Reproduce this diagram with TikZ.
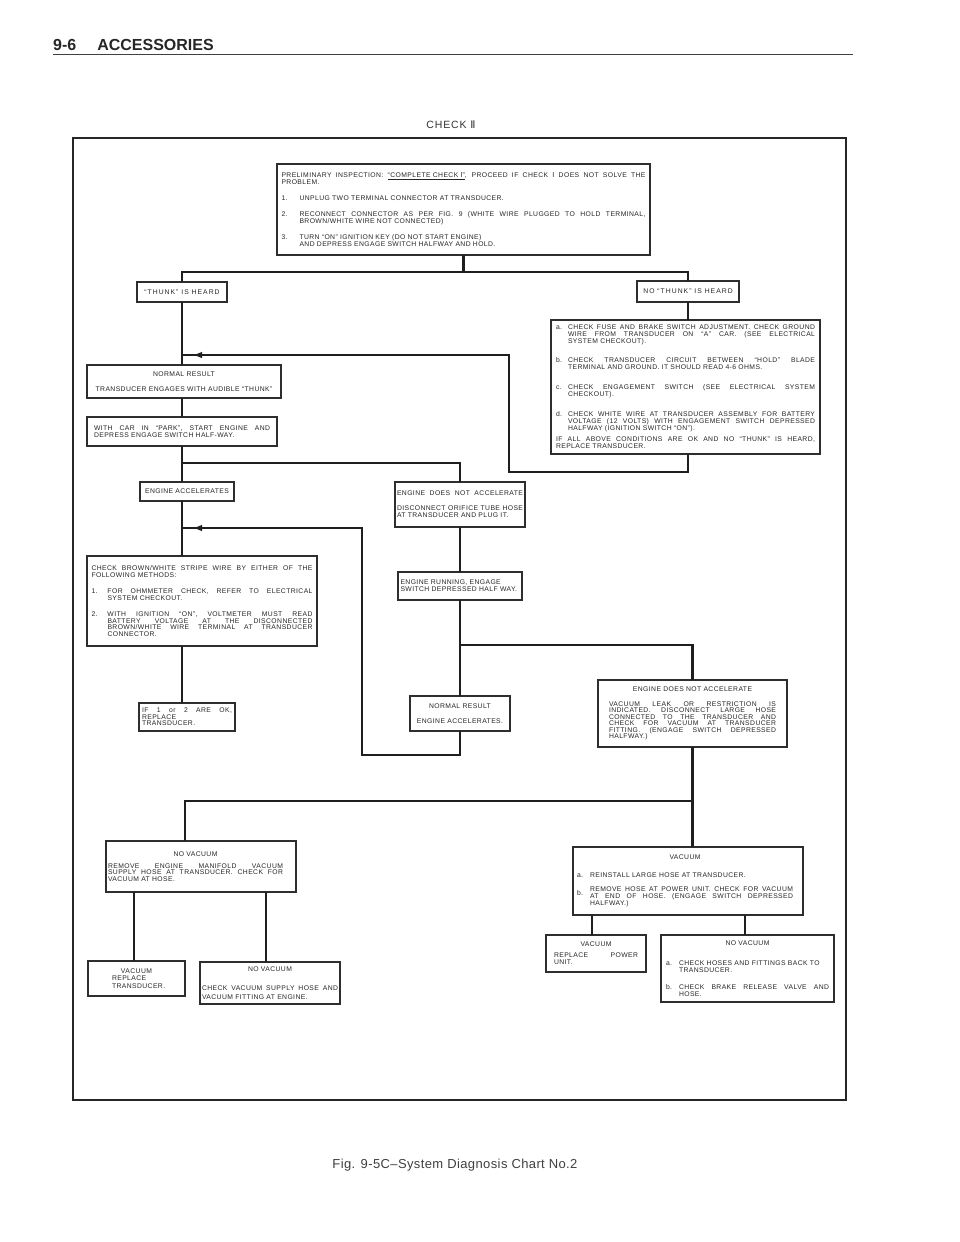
\documentclass[tikz,border=0pt]{standalone}
\usepackage{fontspec}
\setmainfont{Liberation Sans}[LetterSpace=6.0]
\newfontfamily\romfont{DejaVu Sans}
\usetikzlibrary{arrows.meta,decorations.markings}
\newlength\ind
\newcommand\tx{\fontsize{6.8}{7}\selectfont\lineskiplimit=-20pt\relax}
\newcommand\txs{\fontsize{6.8}{6.5}\selectfont\lineskiplimit=-20pt\relax}
\newcommand\txm{\fontsize{6.8}{7.5}\selectfont\lineskiplimit=-20pt\relax}
\newcommand\jst[2][\hsize]{\makebox[#1][s]{\spaceskip=0pt\xspaceskip=0pt #2}}
\newcommand\ctr[2][\hsize]{\makebox[#1][c]{#2}}
\newcommand\itj[3][\hsize]{\makebox[\ind][l]{#2}\makebox[\dimexpr#1-\ind\relax][s]{\spaceskip=0pt\xspaceskip=0pt #3}}
\newcommand\itl[2]{\makebox[\ind][l]{#1}#2}
\begin{document}
\begin{tikzpicture}[x=1pt,y=-1pt,
  bx/.style={draw=black!82, line width=1.1pt, anchor=north west, outer sep=0pt, inner xsep=4pt, inner ysep=0pt, align=left, font=\tx, text=black!85},
  cbx/.style={bx, align=center},
  conn/.style={draw=black!88, line width=2.3pt},
  retarrow/.style={postaction={decorate}, decoration={markings, mark=at position -10pt with {\arrow{Latex[length=10pt,width=6.5pt]}}}}
]
\fill[white] (0,0) rectangle (960,1242);
\useasboundingbox (0,0) rectangle (960,1242);

% header
\node[anchor=base west, inner sep=0, font=\fontsize{16}{16}\selectfont\bfseries\addfontfeatures{LetterSpace=0}, text=black!85] (hdr) at (53,50) {9-6\hspace{21pt}ACCESSORIES};
\coordinate (r1) at (53,54.5);
\coordinate (r2) at (853,54.5);
\draw[line width=1.3pt, black!75] (r1) -- (r2);

\node[font=\fontsize{10.5}{10.5}\selectfont\addfontfeatures{LetterSpace=8}, text=black!80, inner sep=0] (chk) at (451,125) {CHECK {\romfont Ⅱ}};

% frame
\node[draw=black!85, line width=1.8pt, anchor=north west, minimum width=773pt, minimum height=962pt, inner sep=0pt, outer sep=0pt] (frame) at (73,138) {};

% boxes
\node[bx, minimum width=373pt, minimum height=91pt, inner xsep=4.5pt, text width=364pt] (top) at (277,164) {\setlength\ind{18pt}%
\jst{PRELIMINARY INSPECTION: \underline{``COMPLETE CHECK {\romfont Ⅰ}''}, PROCEED IF CHECK {\romfont Ⅰ} DOES NOT SOLVE THE}\\
PROBLEM.\\[9pt]
\itl{1.}{UNPLUG TWO TERMINAL CONNECTOR AT TRANSDUCER.}\\[9pt]
\itj{2.}{RECONNECT CONNECTOR AS PER FIG. 9 (WHITE WIRE PLUGGED TO HOLD TERMINAL,}\\
\itl{}{BROWN/WHITE WIRE NOT CONNECTED)}\\[9pt]
\itl{3.}{TURN ``ON'' IGNITION KEY (DO NOT START ENGINE)}\\
\itl{}{AND DEPRESS ENGAGE SWITCH HALFWAY AND HOLD.}};

\node[cbx, font=\tx\addfontfeatures{LetterSpace=15}, minimum width=90pt, minimum height=20pt] (thunk) at (137,282) {``THUNK'' IS HEARD};
\node[cbx, font=\tx\addfontfeatures{LetterSpace=15}, minimum width=102pt, minimum height=21pt] (nothunk) at (637,281) {NO ``THUNK'' IS HEARD};

\node[bx, minimum width=269pt, minimum height=134pt, inner xsep=5pt, text width=259pt] (rbox) at (551,320) {\setlength\ind{12pt}%
\itj{a.}{CHECK FUSE AND BRAKE SWITCH ADJUSTMENT. CHECK GROUND}\\
\itj{}{WIRE FROM TRANSDUCER ON ``A'' CAR. (SEE ELECTRICAL}\\
\itl{}{SYSTEM CHECKOUT).}\\[12pt]
\itj{b.}{CHECK TRANSDUCER CIRCUIT BETWEEN ``HOLD'' BLADE}\\
\itl{}{TERMINAL AND GROUND. IT SHOULD READ 4-6 OHMS.}\\[13pt]
\itj{c.}{CHECK ENGAGEMENT SWITCH (SEE ELECTRICAL SYSTEM}\\
\itl{}{CHECKOUT).}\\[13pt]
\itj{d.}{CHECK WHITE WIRE AT TRANSDUCER ASSEMBLY FOR BATTERY}\\
\itj{}{VOLTAGE (12 VOLTS) WITH ENGAGEMENT SWITCH DEPRESSED}\\
\itl{}{HALFWAY (IGNITION SWITCH ``ON'').}\\[4pt]
\jst{IF ALL ABOVE CONDITIONS ARE OK AND NO ``THUNK'' IS HEARD,}\\
REPLACE TRANSDUCER.};

\node[cbx, minimum width=194pt, minimum height=33pt] (norm1) at (87,365) {NORMAL RESULT\\[8pt]TRANSDUCER ENGAGES WITH AUDIBLE ``THUNK''};

\node[bx, minimum width=190pt, minimum height=29pt, inner xsep=7pt, text width=176pt] (withcar) at (87,417) {\jst{WITH CAR IN ``PARK'', START ENGINE AND}\\DEPRESS ENGAGE SWITCH HALF-WAY.};

\node[cbx, minimum width=94pt, minimum height=19pt] (engacc) at (140,482) {ENGINE ACCELERATES};

\node[bx, minimum width=130pt, minimum height=45pt, inner xsep=2pt, text width=126pt] (engnot) at (395,482) {\jst{ENGINE DOES NOT ACCELERATE}\\[8pt]\jst{DISCONNECT ORIFICE TUBE HOSE}\\AT TRANSDUCER AND PLUG IT.};

\node[bx, font=\txs, minimum width=230pt, minimum height=90pt, inner xsep=4.5pt, text width=221pt] (checkb) at (87,556) {\setlength\ind{16pt}%
\jst{CHECK BROWN/WHITE STRIPE WIRE BY EITHER OF THE}\\
FOLLOWING METHODS:\\[10pt]
\itj{1.}{FOR OHMMETER CHECK, REFER TO ELECTRICAL}\\
\itl{}{SYSTEM CHECKOUT.}\\[10pt]
\itj{2.}{WITH IGNITION ``ON'', VOLTMETER MUST READ}\\
\itj{}{BATTERY VOLTAGE AT THE DISCONNECTED}\\
\itj{}{BROWN/WHITE WIRE TERMINAL AT TRANSDUCER}\\
\itl{}{CONNECTOR.}};

\node[bx, font=\txs, minimum width=96pt, minimum height=28pt, inner xsep=3pt, text width=90pt] (ifbox) at (139,703) {\jst{IF 1 or 2 ARE OK,}\\REPLACE\\TRANSDUCER.};

\node[bx, minimum width=124pt, minimum height=28pt, inner xsep=2.5pt, text width=119pt] (engrun) at (398,572) {\mbox{ENGINE RUNNING, ENGAGE}\\\mbox{\spaceskip=0pt SWITCH DEPRESSED HALF WAY.}};

\node[cbx, minimum width=100pt, minimum height=35pt] (norm2) at (410,696) {NORMAL RESULT\\[8pt]ENGINE ACCELERATES.};

\node[bx, font=\txs, minimum width=189pt, minimum height=67pt, inner xsep=11pt, text width=167pt] (vleak) at (598,680) {\ctr{ENGINE DOES NOT ACCELERATE}\\[8pt]
\jst{VACUUM LEAK OR RESTRICTION IS}\\
\jst{INDICATED. DISCONNECT LARGE HOSE}\\
\jst{CONNECTED TO THE TRANSDUCER AND}\\
\jst{CHECK FOR VACUUM AT TRANSDUCER}\\
\jst{FITTING. (ENGAGE SWITCH DEPRESSED}\\
HALFWAY.)};

\node[bx, font=\txs, minimum width=190pt, minimum height=51pt, inner xsep=2pt, text width=186pt] (novac1) at (106,841) {\ctr[175pt]{NO VACUUM}\\[5pt]
\jst[175pt]{REMOVE ENGINE MANIFOLD VACUUM}\\
\jst[175pt]{SUPPLY HOSE AT TRANSDUCER. CHECK FOR}\\
VACUUM AT HOSE.};

\node[bx, minimum width=230pt, minimum height=68pt, inner xsep=4pt, text width=222pt] (vacR) at (573,847) {\setlength\ind{13pt}%
\ctr[216pt]{VACUUM}\\[11pt]
\itl{a.}{REINSTALL LARGE HOSE AT TRANSDUCER.}\\[7pt]
\itj[216pt]{\smash{\raisebox{-3.5pt}{b.}}}{REMOVE HOSE AT POWER UNIT. CHECK FOR VACUUM}\\
\itj[216pt]{}{AT END OF HOSE. (ENGAGE SWITCH DEPRESSED}\\
\itl{}{HALFWAY.)}};

\node[bx, font=\txm, minimum width=97pt, minimum height=35pt, inner xsep=0pt, text width=97pt] (vrt) at (88,961) {\ctr{VACUUM}\\\hspace*{24pt}REPLACE\\\hspace*{24pt}TRANSDUCER.};

\node[bx, minimum width=140pt, minimum height=42pt, inner xsep=2pt, text width=136pt] (novac2) at (200,962) {\ctr{NO VACUUM}\\[12pt]\jst{CHECK VACUUM SUPPLY HOSE AND}\\[2pt]VACUUM FITTING AT ENGINE.};

\node[bx, minimum width=100pt, minimum height=37pt, inner xsep=8pt, text width=84pt] (vrp) at (546,935) {\ctr{VACUUM}\\[4pt]\jst{REPLACE POWER}\\UNIT.};

\node[bx, minimum width=173pt, minimum height=67pt, inner xsep=5pt, text width=163pt] (novacR) at (661,935) {\setlength\ind{13pt}%
\ctr{NO VACUUM}\\[13pt]
\itl{a.}{CHECK HOSES AND FITTINGS BACK TO}\\
\itl{}{TRANSDUCER.}\\[10pt]
\itj{b.}{CHECK BRAKE RELEASE VALVE AND}\\
\itl{}{HOSE.}};

\node[font=\fontsize{13}{13}\selectfont\addfontfeatures{LetterSpace=3.0}, text=black!75, inner sep=0pt] (cap) at (455,1165) {Fig. 9-5C--System Diagnosis Chart No.2};

% junction coordinates
\coordinate (yA) at (0,272);
\coordinate (yB) at (0,472);
\coordinate (yC) at (0,355);
\coordinate (xD) at (509,0);
\coordinate (yD) at (0,463);
\coordinate (yE) at (0,645);
\coordinate (yF) at (0,755);
\coordinate (xF) at (362,0);
\coordinate (yG) at (0,528);
\coordinate (yH) at (0,801);
\coordinate (xH) at (185,0);
\coordinate (xI) at (134,0);
\coordinate (xJ) at (266,0);
\coordinate (xK) at (592,0);
\coordinate (xL) at (745,0);

% connectors
\draw[conn] (top.south) -- (top.south |- yA);
\draw[conn] (thunk.north) -- (thunk.north |- yA) -- (nothunk.north |- yA) -- (nothunk.north);
\draw[conn] (nothunk.south) -- (nothunk.south |- rbox.north);
\draw[conn] (thunk.south) -- (thunk.south |- norm1.north);
\draw[conn, retarrow] (rbox.south -| nothunk.south) -- (nothunk.south |- yB) -- (xD |- yB) -- (xD |- yC) -- (thunk.south |- yC);
\draw[conn] (norm1.south -| thunk.south) -- (withcar.north -| thunk.south);
\draw[conn] (withcar.south -| thunk.south) -- (engacc.north -| thunk.south);
\draw[conn] (thunk.south |- yD) -- (engnot.north |- yD) -- (engnot.north);
\draw[conn] (engacc.south -| thunk.south) -- (checkb.north -| thunk.south);
\draw[conn] (engnot.south) -- (engrun.north);
\draw[conn] (engrun.south) -- (norm2.north);
\draw[conn] (engrun.south |- yE) -- (vleak.north |- yE) -- (vleak.north);
\draw[conn, retarrow] (norm2.south) -- (norm2.south |- yF) -- (xF |- yF) -- (xF |- yG) -- (thunk.south |- yG);
\draw[conn] (checkb.south -| thunk.south) -- (ifbox.north -| thunk.south);
\draw[conn] (vleak.south) -- (vleak.south |- vacR.north);
\draw[conn] (vleak.south |- yH) -- (xH |- yH) -- (xH |- novac1.north);
\draw[conn] (novac1.south -| xI) -- (vrt.north -| xI);
\draw[conn] (novac1.south -| xJ) -- (novac2.north -| xJ);
\draw[conn] (vacR.south -| xK) -- (vrp.north -| xK);
\draw[conn] (vacR.south -| xL) -- (novacR.north -| xL);
\end{tikzpicture}
\end{document}
